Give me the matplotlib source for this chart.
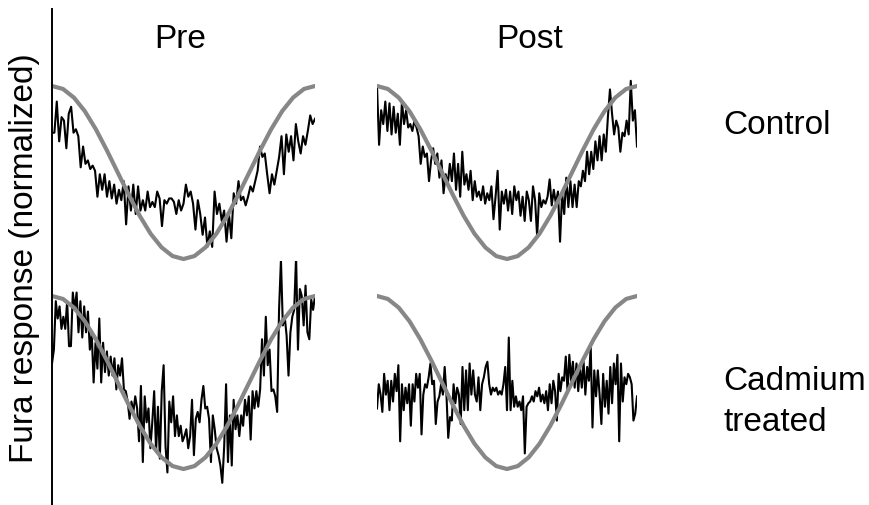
import numpy as np
import matplotlib
matplotlib.use("Agg")
import matplotlib.pyplot as plt
from matplotlib.lines import Line2D

plt.rcParams['font.family'] = ['Liberation Sans', 'DejaVu Sans']

# stimulus (one cycle, normalized 0..1), sampled every 1/24 of the period
stimulus = [1.0, 0.983, 0.933, 0.854, 0.75, 0.629, 0.5, 0.371, 0.25, 0.146, 0.067, 0.017, 0.0,
            0.017, 0.067, 0.146, 0.25, 0.371, 0.5, 0.629, 0.75, 0.854, 0.933, 0.983, 1.0]

# fura responses, normalized to the stimulus range
control_pre = [0.73, 0.73, 0.91, 0.68, 0.82, 0.80, 0.64, 0.84, 0.88, 0.73, 0.75, 0.71, 0.53, 0.65, 0.55,
               0.57, 0.52, 0.54, 0.51, 0.36, 0.49, 0.40, 0.49, 0.36, 0.45, 0.35, 0.43, 0.32, 0.40, 0.34,
               0.45, 0.20, 0.42, 0.28, 0.43, 0.26, 0.42, 0.28, 0.34, 0.28, 0.39, 0.30, 0.33, 0.30, 0.39,
               0.35, 0.19, 0.34, 0.32, 0.35, 0.35, 0.33, 0.26, 0.34, 0.28, 0.32, 0.43, 0.36, 0.39, 0.32,
               0.17, 0.34, 0.26, 0.14, 0.24, 0.07, 0.16, 0.07, 0.39, 0.26, 0.32, 0.22, 0.28, 0.10, 0.26,
               0.12, 0.38, 0.32, 0.45, 0.34, 0.36, 0.31, 0.36, 0.42, 0.39, 0.45, 0.51, 0.65, 0.59, 0.61,
               0.49, 0.38, 0.49, 0.43, 0.51, 0.59, 0.71, 0.49, 0.72, 0.62, 0.71, 0.57, 0.78, 0.68, 0.61,
               0.71, 0.66, 0.74, 0.83, 0.78, 0.81]

control_post = [1.00, 0.66, 0.86, 0.78, 0.91, 0.74, 0.90, 0.72, 0.88, 0.73, 0.84, 0.66, 0.91, 0.78, 0.86,
                0.76, 0.78, 0.74, 0.80, 0.76, 0.71, 0.55, 0.65, 0.59, 0.61, 0.45, 0.57, 0.64, 0.55, 0.61,
                0.47, 0.57, 0.38, 0.49, 0.43, 0.55, 0.45, 0.61, 0.40, 0.55, 0.36, 0.62, 0.43, 0.49, 0.40,
                0.51, 0.34, 0.45, 0.36, 0.39, 0.34, 0.42, 0.32, 0.38, 0.34, 0.42, 0.23, 0.36, 0.51, 0.17,
                0.39, 0.32, 0.40, 0.28, 0.39, 0.26, 0.42, 0.34, 0.39, 0.25, 0.36, 0.22, 0.39, 0.34, 0.22,
                0.42, 0.34, 0.13, 0.38, 0.30, 0.34, 0.32, 0.36, 0.46, 0.31, 0.40, 0.32, 0.39, 0.10, 0.38,
                0.26, 0.47, 0.30, 0.45, 0.30, 0.43, 0.30, 0.45, 0.42, 0.51, 0.45, 0.62, 0.49, 0.62, 0.52,
                0.68, 0.57, 0.71, 0.57, 0.72, 0.62, 0.82, 0.98, 0.84, 0.72, 0.80, 0.76, 0.62, 0.73, 0.71,
                0.80, 0.72, 1.03, 0.80, 0.86, 0.65]

cadmium_pre = [0.61, 0.69, 0.97, 0.87, 0.94, 0.81, 0.88, 0.81, 0.97, 0.71, 0.71, 1.02, 0.92, 1.02, 0.79,
               0.97, 0.76, 0.94, 0.79, 0.91, 0.69, 0.78, 0.50, 0.73, 0.58, 0.87, 0.50, 0.73, 0.56, 0.68,
               0.54, 0.65, 0.54, 0.64, 0.46, 0.60, 0.54, 0.64, 0.46, 0.45, 0.39, 0.29, 0.39, 0.33, 0.42,
               0.35, 0.16, 0.48, 0.04, 0.42, 0.27, 0.35, 0.12, 0.27, 0.45, 0.10, 0.36, 0.06, 0.45, 0.60,
               0.13, -0.02, 0.39, 0.27, 0.42, 0.19, 0.31, 0.19, 0.25, 0.16, 0.19, 0.23, 0.12, 0.19, 0.40,
               0.08, 0.29, 0.33, 0.27, 0.40, 0.48, 0.35, 0.36, 0.29, 0.04, 0.31, 0.23, 0.12, 0.08, 0.02,
               -0.08, 0.13, 0.49, 0.04, 0.31, 0.02, 0.40, 0.23, 0.31, 0.19, 0.31, 0.25, 0.40, 0.31, 0.42,
               0.17, 0.45, 0.35, 0.45, 0.36, 0.46, 0.75, 0.54, 0.88, 0.60, 0.69, 0.45, 0.46, 0.42, 0.33,
               0.92, 1.21, 0.83, 0.88, 0.77, 0.54, 0.79, 0.88, 0.92, 1.23, 0.69, 1.04, 1.00, 0.83, 1.06,
               0.79, 0.75, 0.98, 0.92, 1.00]

cadmium_post = [0.35, 0.49, 0.43, 0.33, 0.55, 0.43, 0.51, 0.34, 0.51, 0.39, 0.55, 0.45, 0.60, 0.16, 0.49,
                0.34, 0.47, 0.38, 0.49, 0.25, 0.49, 0.39, 0.55, 0.47, 0.55, 0.20, 0.43, 0.49, 0.47, 0.53,
                0.61, 0.49, 0.51, 0.26, 0.39, 0.42, 0.49, 0.43, 0.59, 0.43, 0.18, 0.30, 0.28, 0.49, 0.38,
                0.47, 0.43, 0.26, 0.59, 0.34, 0.57, 0.34, 0.61, 0.43, 0.57, 0.43, 0.39, 0.53, 0.34, 0.49,
                0.53, 0.59, 0.62, 0.49, 0.43, 0.47, 0.45, 0.47, 0.43, 0.45, 0.43, 0.49, 0.59, 0.34, 0.76,
                0.34, 0.51, 0.36, 0.42, 0.36, 0.39, 0.34, 0.42, 0.09, 0.36, 0.38, 0.39, 0.42, 0.39, 0.45,
                0.42, 0.47, 0.39, 0.43, 0.38, 0.45, 0.34, 0.49, 0.38, 0.51, 0.45, 0.28, 0.55, 0.45, 0.53,
                0.51, 0.65, 0.45, 0.66, 0.51, 0.62, 0.47, 0.61, 0.45, 0.59, 0.47, 0.62, 0.43, 0.59, 0.51,
                0.71, 0.24, 0.57, 0.42, 0.57, 0.43, 0.26, 0.55, 0.36, 0.51, 0.32, 0.59, 0.38, 0.61, 0.49,
                0.66, 0.16, 0.61, 0.39, 0.53, 0.49, 0.55, 0.53, 0.49, 0.28, 0.32, 0.42]

col_titles = ["Pre", "Post"]
row_titles = ["Control", "Cadmium\ntreated"]
ylabel = "Fura response (normalized)"

W, H = 869, 506
fig = plt.figure(figsize=(W / 100, H / 100), dpi=100)

# panel placement in pixels: (left, width) per column, (stim top, stim bottom) per row
cols = [(52, 263), (377, 260)]
rows = [(87, 260), (297, 470)]
pad = 0.2

traces = [[control_pre, control_post], [cadmium_pre, cadmium_post]]

for r, (top, bot) in enumerate(rows):
    span = bot - top
    y0 = bot + pad * span
    y1 = top - pad * span
    for c, (left, width) in enumerate(cols):
        ax = fig.add_axes([left / W, (H - y0) / H, width / W, (y0 - y1) / H])
        ax.set_facecolor('none')
        resp = traces[r][c]
        ax.plot(np.linspace(0, 1, len(resp)), resp, color='black', lw=1.5, zorder=2)
        ax.plot(np.linspace(0, 1, len(stimulus)), stimulus, color='#878787', lw=3.0,
                solid_capstyle='round', solid_joinstyle='round', zorder=3)
        ax.set_xlim(0, 1)
        ax.set_ylim(-pad, 1 + pad)
        ax.axis('off')

# left axis line
fig.add_artist(Line2D([52 / W, 52 / W], [0, 1 - 10 / H], color='black', lw=1.4))

fs = 24
fig.text(180 / W, 1 - 40 / H, col_titles[0], fontsize=fs, ha='center', va='center')
fig.text(530 / W, 1 - 40 / H, col_titles[1], fontsize=fs, ha='center', va='center')
fig.text(723 / W, 1 - 126 / H, row_titles[0], fontsize=fs, ha='left', va='center')
fig.text(723 / W, 1 - 402 / H, row_titles[1], fontsize=fs, ha='left', va='center',
         linespacing=1.4)
fig.text(25 / W, 1 - 258 / H, ylabel, fontsize=fs, rotation=90, ha='center', va='center')

fig.savefig("out.png", dpi=100)
